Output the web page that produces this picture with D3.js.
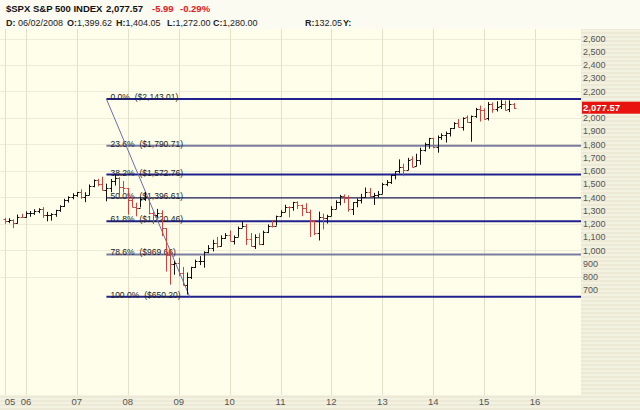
<!DOCTYPE html>
<html>
<head>
<meta charset="utf-8">
<script src="https://cdn.jsdelivr.net/npm/d3@7"></script>
<style>
  body { margin: 0; background: #fff; }
  svg { display: block; font-family: "Liberation Sans", Arial, sans-serif; }
</style>
</head>
<body>
<div id="chart"></div>
<script>
// monthly OHLC, $SPX Aug 2005 - Aug 2015
var months = [
  "2005-08","2005-09","2005-10","2005-11","2005-12",
  "2006-01","2006-02","2006-03","2006-04","2006-05","2006-06","2006-07","2006-08","2006-09","2006-10","2006-11","2006-12",
  "2007-01","2007-02","2007-03","2007-04","2007-05","2007-06","2007-07","2007-08","2007-09","2007-10","2007-11","2007-12",
  "2008-01","2008-02","2008-03","2008-04","2008-05","2008-06","2008-07","2008-08","2008-09","2008-10","2008-11","2008-12",
  "2009-01","2009-02","2009-03","2009-04","2009-05","2009-06","2009-07","2009-08","2009-09","2009-10","2009-11","2009-12",
  "2010-01","2010-02","2010-03","2010-04","2010-05","2010-06","2010-07","2010-08","2010-09","2010-10","2010-11","2010-12",
  "2011-01","2011-02","2011-03","2011-04","2011-05","2011-06","2011-07","2011-08","2011-09","2011-10","2011-11","2011-12",
  "2012-01","2012-02","2012-03","2012-04","2012-05","2012-06","2012-07","2012-08","2012-09","2012-10","2012-11","2012-12",
  "2013-01","2013-02","2013-03","2013-04","2013-05","2013-06","2013-07","2013-08","2013-09","2013-10","2013-11","2013-12",
  "2014-01","2014-02","2014-03","2014-04","2014-05","2014-06","2014-07","2014-08","2014-09","2014-10","2014-11","2014-12",
  "2015-01","2015-02","2015-03","2015-04","2015-05","2015-06","2015-07","2015-08"
];
var opens = [
  1234.18,1220.33,1228.81,1207.01,1249.48,
  1248.29,1280.08,1280.66,1294.87,1310.61,1270.09,1270.20,1276.66,1303.82,1335.85,1377.94,1400.63,
  1418.30,1438.24,1406.82,1420.86,1482.37,1530.62,1503.35,1455.27,1473.99,1526.75,1549.38,1481.14,
  1468.36,1378.55,1330.63,1322.70,1385.59,1399.62,1280.00,1267.38,1282.83,1166.36,968.75,896.24,
  903.25,825.88,735.09,797.87,872.81,919.14,919.32,987.48,1020.62,1057.08,1036.19,1095.63,
  1115.10,1073.87,1104.49,1169.43,1186.69,1089.41,1030.71,1101.60,1049.33,1141.20,1183.26,1180.55,
  1257.64,1286.12,1327.22,1325.83,1363.61,1345.20,1320.64,1292.28,1218.89,1131.42,1253.30,1246.96,
  1257.60,1312.41,1365.68,1408.47,1397.91,1310.33,1362.16,1379.32,1406.58,1440.67,1412.16,1416.18,
  1426.19,1498.11,1514.68,1569.18,1597.55,1631.71,1609.78,1689.42,1635.95,1682.41,1758.70,1806.55,
  1845.86,1782.68,1857.68,1873.96,1884.66,1923.87,1962.29,1929.80,2004.07,1971.44,2018.21,2065.78,
  2058.90,1996.67,2105.23,2067.63,2087.38,2108.64,2067.00,2104.49
];
var highs = [
  1245.86,1243.13,1233.34,1270.64,1275.80,
  1294.90,1297.57,1310.88,1318.16,1326.70,1290.68,1280.42,1306.74,1340.28,1389.45,1407.89,1431.81,
  1441.61,1461.57,1438.89,1498.02,1535.56,1540.56,1555.90,1503.89,1538.74,1576.09,1552.76,1523.57,
  1471.77,1406.36,1359.68,1404.57,1440.24,1404.05,1292.17,1313.15,1303.04,1167.03,1007.51,918.85,
  943.85,875.01,832.98,875.63,930.17,956.23,993.18,1039.47,1080.15,1101.36,1113.69,1130.38,
  1150.45,1112.42,1180.16,1219.80,1200.26,1131.23,1120.95,1129.24,1148.90,1196.14,1227.08,1262.60,
  1302.67,1344.07,1332.28,1366.60,1370.58,1345.20,1356.48,1307.38,1229.29,1292.66,1277.55,1269.37,
  1333.47,1378.04,1419.15,1422.38,1415.32,1363.46,1391.74,1426.68,1474.51,1470.96,1434.27,1448.00,
  1509.94,1530.94,1570.28,1597.57,1687.18,1654.19,1698.78,1709.67,1729.86,1775.22,1813.55,1849.44,
  1850.84,1867.92,1883.97,1897.28,1924.03,1968.17,1991.39,2005.04,2019.26,2018.19,2075.76,2093.55,
  2072.36,2119.59,2117.52,2125.92,2134.72,2129.87,2132.82,2112.66
];
var lows = [
  1201.07,1205.35,1168.20,1201.07,1246.59,
  1245.74,1253.61,1268.42,1280.74,1245.34,1219.29,1224.54,1253.58,1290.93,1327.10,1360.98,1385.93,
  1403.97,1389.42,1363.98,1416.37,1476.70,1484.18,1454.25,1370.60,1439.29,1489.56,1406.10,1435.65,
  1270.05,1325.42,1256.98,1324.35,1373.07,1272.00,1200.44,1247.45,1106.42,839.80,741.02,815.69,
  804.30,734.52,666.79,783.94,866.10,888.86,869.32,978.51,991.97,1019.95,1029.38,1085.89,
  1071.59,1044.50,1101.91,1170.69,1040.78,1028.33,1010.91,1039.70,1039.70,1131.87,1173.00,1186.60,
  1257.62,1289.14,1249.05,1299.16,1311.80,1258.07,1282.86,1101.54,1114.22,1074.77,1158.66,1202.37,
  1257.60,1312.41,1340.03,1357.38,1291.98,1266.74,1325.41,1354.65,1396.56,1403.28,1343.35,1398.11,
  1426.19,1485.01,1501.48,1536.03,1581.28,1560.33,1604.57,1627.47,1633.41,1646.47,1746.20,1767.99,
  1770.45,1737.92,1834.44,1814.36,1859.79,1915.98,1930.67,1904.78,1964.04,1820.66,2001.01,1972.56,
  1988.12,1980.90,2039.69,2048.38,2067.93,2056.32,2044.02,2067.91
];
var closes = [
  1220.33,1228.81,1207.01,1249.48,1248.29,
  1280.08,1280.66,1294.87,1310.61,1270.09,1270.20,1276.66,1303.82,1335.85,1377.94,1400.63,1418.30,
  1438.24,1406.82,1420.86,1482.37,1530.62,1503.35,1455.27,1473.99,1526.75,1549.38,1481.14,1468.36,
  1378.55,1330.63,1322.70,1385.59,1400.38,1280.00,1267.38,1282.83,1166.36,968.75,896.24,903.25,
  825.88,735.09,797.87,872.81,919.14,919.32,987.48,1020.62,1057.08,1036.19,1095.63,1115.10,
  1073.87,1104.49,1169.43,1186.69,1089.41,1030.71,1101.60,1049.33,1141.20,1183.26,1180.55,1257.64,
  1286.12,1327.22,1325.83,1363.61,1345.20,1320.64,1292.28,1218.89,1131.42,1253.30,1246.96,1257.60,
  1312.41,1365.68,1408.47,1397.91,1310.33,1362.16,1379.32,1406.58,1440.67,1412.16,1416.18,1426.19,
  1498.11,1514.68,1569.19,1597.57,1630.74,1606.28,1685.73,1632.97,1681.55,1756.54,1805.81,1848.36,
  1782.59,1859.45,1872.34,1883.95,1923.57,1960.23,1930.67,2003.37,1972.29,2018.05,2067.56,2058.90,
  1994.99,2104.50,2067.89,2085.51,2107.39,2063.11,2103.84,2077.57
];

// axis ticks
var priceTicks = [700,800,900,1000,1100,1200,1300,1400,1500,1600,1700,1800,1900,2000,2100,2200,2300,2400,2500,2600];
var priceGrid = [800,1000,1200,1400,1600,1800,2000,2200,2400,2600];
var yearTicks = ["2005-08","2006-01","2007-01","2008-01","2009-01","2010-01","2011-01","2012-01","2013-01","2014-01","2015-01","2016-01"];
var yearLabels = ["05","06","07","08","09","10","11","12","13","14","15","16"];

// fibonacci retracement
var fibPcts = ["0.0%","23.6%","38.2%","50.0%","61.8%","78.6%","100.0%"];
var fibPrices = [2143.01,1790.71,1572.76,1396.61,1220.46,969.66,650.20];
var fibLabels = ["($2,143.01)","($1,790.71)","($1,572.76)","($1,396.61)","($1,220.46)","($969.66)","($650.20)"];
var fibStart = "2007-08-01", fibEnd = "2009-03-20";

var lastPrice = 2077.57;

var W = 640, H = 410,
    plot = {left: 0, right: 581, top: 29, bottom: 395};

var parse = d3.timeParse("%Y-%m"), parseDay = d3.timeParse("%Y-%m-%d");
var data = months.map(function(m, i) {
  return {date: parse(m), o: opens[i], h: highs[i], l: lows[i], c: closes[i],
          up: i == 0 ? closes[i] >= opens[i] : closes[i] >= closes[i - 1]};
});

var x = d3.scaleTime()
  .domain([parse("2006-01"), parse("2016-01")])
  .range([26, 535]);
var y = d3.scaleLinear()
  .domain([700, 2600])
  .range([290.1, 38.5]);

var svg = d3.select("#chart").append("svg")
  .attr("width", W).attr("height", H);

var defs = svg.append("defs");
var pat = defs.append("pattern").attr("id", "stripes")
  .attr("patternUnits", "userSpaceOnUse").attr("width", 6).attr("height", 4);
pat.append("rect").attr("width", 6).attr("height", 4).attr("fill", "#f3f1df");
pat.append("rect").attr("width", 6).attr("height", 2).attr("fill", "#ecead6");

// backgrounds
svg.append("rect").attr("width", W).attr("height", H).attr("fill", "url(#stripes)");
svg.append("rect").attr("width", W).attr("height", plot.top).attr("fill", "#fbfbf2");
svg.append("rect")
  .attr("x", plot.left).attr("y", plot.top)
  .attr("width", plot.right - plot.left).attr("height", plot.bottom - plot.top)
  .attr("fill", "#fffeea");

// grid
svg.append("g").selectAll("line")
  .data(priceGrid).enter().append("line")
  .attr("x1", plot.left).attr("x2", plot.right)
  .attr("y1", function(d) { return Math.round(y(d)) + 0.5; })
  .attr("y2", function(d) { return Math.round(y(d)) + 0.5; })
  .attr("stroke", "#eeecd6");
svg.append("g").selectAll("line")
  .data(yearTicks).enter().append("line")
  .attr("x1", function(d) { return Math.round(x(parse(d))) + 0.5; })
  .attr("x2", function(d) { return Math.round(x(parse(d))) + 0.5; })
  .attr("y1", plot.top).attr("y2", plot.bottom)
  .attr("stroke", "#e3e0c8");

// x labels
svg.append("g").selectAll("text")
  .data(yearTicks).enter().append("text")
  .attr("x", function(d) { return x(parse(d)); })
  .attr("y", 402)
  .attr("dy", "0.35em")
  .attr("text-anchor", function(d, i) { return i == 0 ? "start" : "middle"; })
  .attr("font-size", 9.5)
  .attr("fill", "#555")
  .text(function(d, i) { return yearLabels[i]; });

// y labels (right side)
svg.append("g").selectAll("text")
  .data(priceTicks).enter().append("text")
  .attr("x", 583)
  .attr("y", function(d) { return y(d); })
  .attr("dy", "0.35em")
  .attr("font-size", 9)
  .attr("fill", "#555")
  .text(function(d) { return d3.format(",")(d); });

// fib lines
var fibG = svg.append("g");
fibG.selectAll("line")
  .data(fibPrices).enter().append("line")
  .attr("x1", x(parseDay(fibStart))).attr("x2", plot.right)
  .attr("y1", function(d) { return y(d); })
  .attr("y2", function(d) { return y(d); })
  .attr("stroke", function(d, i) {
    if (i == 1 || i == 5) return "#7c7ca0";
    if (i == 3) return "#1c1c5a";
    return "#20208e";
  })
  .attr("stroke-width", function(d, i) { return i == 3 ? 1.4 : 2; });

var fibT = fibG.selectAll("text")
  .data(fibPrices).enter().append("text")
  .attr("x", x(parseDay(fibStart)) + 4)
  .attr("y", function(d) { return y(d) + 1; })
  .attr("font-size", 8.5)
  .attr("fill", "#222");
fibT.append("tspan").text(function(d, i) { return fibPcts[i]; });
fibT.append("tspan").attr("dx", 5).text(function(d, i) { return fibLabels[i]; });

// diagonal trend line of the retracement
svg.append("line")
  .attr("x1", x(parseDay(fibStart))).attr("y1", y(fibPrices[0]))
  .attr("x2", x(parseDay(fibEnd))).attr("y2", y(fibPrices[fibPrices.length - 1]))
  .attr("stroke", "#6c6cb0")
  .attr("stroke-width", 1);

// OHLC bars
var bars = svg.append("g").selectAll("g")
  .data(data).enter().append("g")
  .attr("stroke", function(d) { return d.up ? "#111" : "#c8463f"; })
  .attr("stroke-width", 1);
function bx(d) { return Math.round(x(d.date)) + 0.5; }
bars.append("line")
  .attr("x1", bx).attr("x2", bx)
  .attr("y1", function(d) { return y(d.h); })
  .attr("y2", function(d) { return y(d.l); });
bars.append("line")
  .attr("x1", function(d) { return bx(d) - 2; }).attr("x2", bx)
  .attr("y1", function(d) { return Math.round(y(d.o)) + 0.5; })
  .attr("y2", function(d) { return Math.round(y(d.o)) + 0.5; });
bars.append("line")
  .attr("x1", bx).attr("x2", function(d) { return bx(d) + 2; })
  .attr("y1", function(d) { return Math.round(y(d.c)) + 0.5; })
  .attr("y2", function(d) { return Math.round(y(d.c)) + 0.5; });

// last price marker
svg.append("rect")
  .attr("x", 582).attr("y", y(lastPrice) - 6)
  .attr("width", 58).attr("height", 12)
  .attr("fill", "#e8130f");
svg.append("text")
  .attr("x", 583).attr("y", y(lastPrice))
  .attr("dy", "0.35em")
  .attr("font-size", 9.5).attr("font-weight", "bold")
  .attr("fill", "#fff")
  .text(d3.format(",.2f")(lastPrice));

// header
var h1 = svg.append("text").attr("x", 6).attr("y", 12)
  .attr("font-size", 9.5).attr("font-weight", "bold").attr("fill", "#111");
h1.append("tspan").text("$SPX S&P 500 INDEX");
h1.append("tspan").attr("x", 106).text("2,077.57");
h1.append("tspan").attr("x", 152).attr("fill", "#e0201c").text("-5.99");
h1.append("tspan").attr("x", 180).attr("fill", "#e0201c").text("-0.29%");

var info = [
  {x: 6, k: "D:", v: " 06/02/2008"},
  {x: 67, k: "O:", v: "1,399.62"},
  {x: 116, k: "H:", v: "1,404.05"},
  {x: 167, k: "L:", v: "1,272.00"},
  {x: 213, k: "C:", v: "1,280.00"},
  {x: 305, k: "R:", v: "132.05"},
  {x: 343, k: "Y:", v: ""}
];
var h2 = svg.append("g").selectAll("text")
  .data(info).enter().append("text")
  .attr("x", function(d) { return d.x; })
  .attr("y", 26)
  .attr("font-size", 9)
  .attr("fill", "#222");
h2.append("tspan").attr("font-weight", "bold").text(function(d) { return d.k; });
h2.append("tspan").text(function(d) { return d.v; });
</script>
</body>
</html>
